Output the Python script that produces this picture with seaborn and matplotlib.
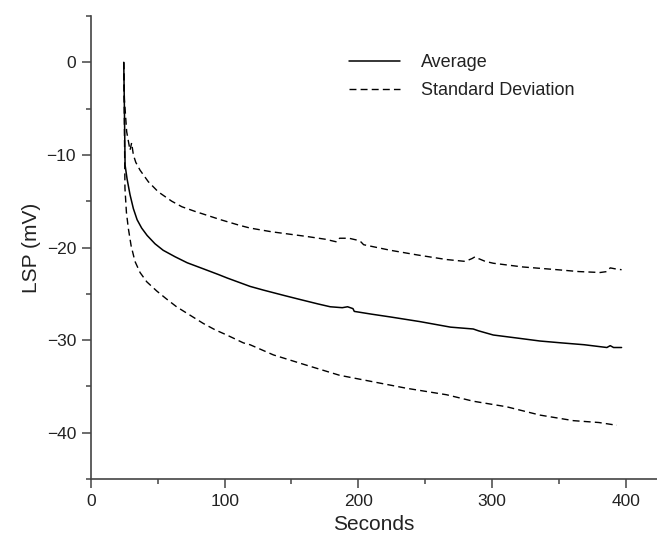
import matplotlib
matplotlib.use("Agg")
import matplotlib.pyplot as plt
import seaborn as sns
from matplotlib.ticker import MultipleLocator

# values
avg_x = [24.5, 25.0, 25.5, 27, 29.2, 31.7, 34.5, 37.9, 42, 47.9, 54, 62.9, 72, 84, 95, 102,
         119, 129, 145, 156, 170, 179, 188, 192, 196, 197, 210, 224, 246, 269, 286, 290, 301,
         320, 336, 352, 369, 386, 388.5, 391, 397]
avg_y = [0, -5, -11.1, -12.6, -14.3, -15.8, -17.0, -17.9, -18.7, -19.6, -20.3, -21.0, -21.65,
         -22.3, -22.9, -23.3, -24.2, -24.6, -25.2, -25.6, -26.1, -26.4, -26.5, -26.4, -26.6,
         -26.9, -27.2, -27.5, -28.0, -28.6, -28.8, -29.0, -29.45, -29.8, -30.1, -30.3, -30.5,
         -30.8, -30.6, -30.8, -30.8]

sd_hi_x = [24.5, 25.0, 26.7, 29.2, 30.4, 31.7, 33.5, 36.7, 42.9, 50.4, 60.4, 68, 77.8, 85.3,
           97, 111, 119, 135, 161, 175, 184, 186, 189, 193, 199, 202, 204, 214, 224, 244, 266,
           280, 285, 287.4, 290, 295, 301, 323, 349, 365, 381, 386, 388.5, 392, 397]
sd_hi_y = [0, -4, -7.5, -9.5, -8.7, -10.0, -10.8, -11.65, -12.9, -14.0, -15.0, -15.6, -16.1,
           -16.45, -17.0, -17.6, -17.9, -18.3, -18.8, -19.1, -19.4, -19.0, -19.0, -19.0, -19.2,
           -19.4, -19.7, -20.0, -20.3, -20.8, -21.3, -21.5, -21.2, -21.0, -21.2, -21.5, -21.7,
           -22.1, -22.4, -22.6, -22.7, -22.6, -22.2, -22.3, -22.4]

sd_lo_x = [24.5, 25.0, 25.4, 26.5, 27.9, 30, 32.9, 36.7, 41.7, 49.2, 56, 64, 74, 84, 93,
           101.6, 114, 119, 136.5, 161, 186, 211, 236, 266, 286, 311, 336, 361, 380, 393.5]
sd_lo_y = [0, -7, -13.6, -16.2, -17.9, -19.8, -21.5, -22.7, -23.7, -24.7, -25.5, -26.4,
           -27.3, -28.2, -28.9, -29.45, -30.3, -30.5, -31.6, -32.7, -33.8, -34.5, -35.2, -35.9,
           -36.6, -37.2, -38.1, -38.7, -38.9, -39.2]

sns.set_style("ticks")
plt.rcParams["font.family"] = ["Liberation Sans", "DejaVu Sans"]

fig = plt.figure(figsize=(6.57, 5.42), dpi=100)
ax = fig.add_axes([91 / 657, 1 - 479 / 542, 566 / 657, 463 / 542])

dash = (0, (5, 3))
sns.lineplot(x=avg_x, y=avg_y, ax=ax, color="black", lw=1.1, label="Average")
sns.lineplot(x=sd_hi_x, y=sd_hi_y, ax=ax, color="black", lw=1.0, linestyle=dash,
             label="Standard Deviation")
sns.lineplot(x=sd_lo_x, y=sd_lo_y, ax=ax, color="black", lw=1.0, linestyle=dash)

ax.set_xlim(0, 423.5)
ax.set_ylim(-45, 5)
ax.xaxis.set_major_locator(MultipleLocator(100))
ax.xaxis.set_minor_locator(MultipleLocator(50))
ax.yaxis.set_major_locator(MultipleLocator(10))
ax.yaxis.set_minor_locator(MultipleLocator(5))
ax.set_yticks([0, -10, -20, -30, -40])
ax.set_yticklabels(["0", "\u221210", "\u221220", "\u221230", "\u221240"])

for s in ["top", "right"]:
    ax.spines[s].set_visible(False)
for s in ["left", "bottom"]:
    ax.spines[s].set_color("#444444")
    ax.spines[s].set_linewidth(1.2)
ax.tick_params(which="major", length=6.8, width=1.1, color="#444444",
               labelsize=12.5, pad=4, labelcolor="#222222")
ax.tick_params(which="minor", length=3.6, width=1.1, color="#444444")

ax.set_xlabel("Seconds", fontsize=15, color="#222222")
ax.set_ylabel("LSP (mV)", fontsize=15, color="#222222")

ax.legend(loc="upper left", bbox_to_anchor=((349 - 91) / 566, 1 - (54 - 16) / 463),
          frameon=False, fontsize=13, handlelength=2.8, handletextpad=1.2,
          labelspacing=0.62, borderpad=0, borderaxespad=0, labelcolor="#222222")

fig.savefig("out.png", dpi=100)
